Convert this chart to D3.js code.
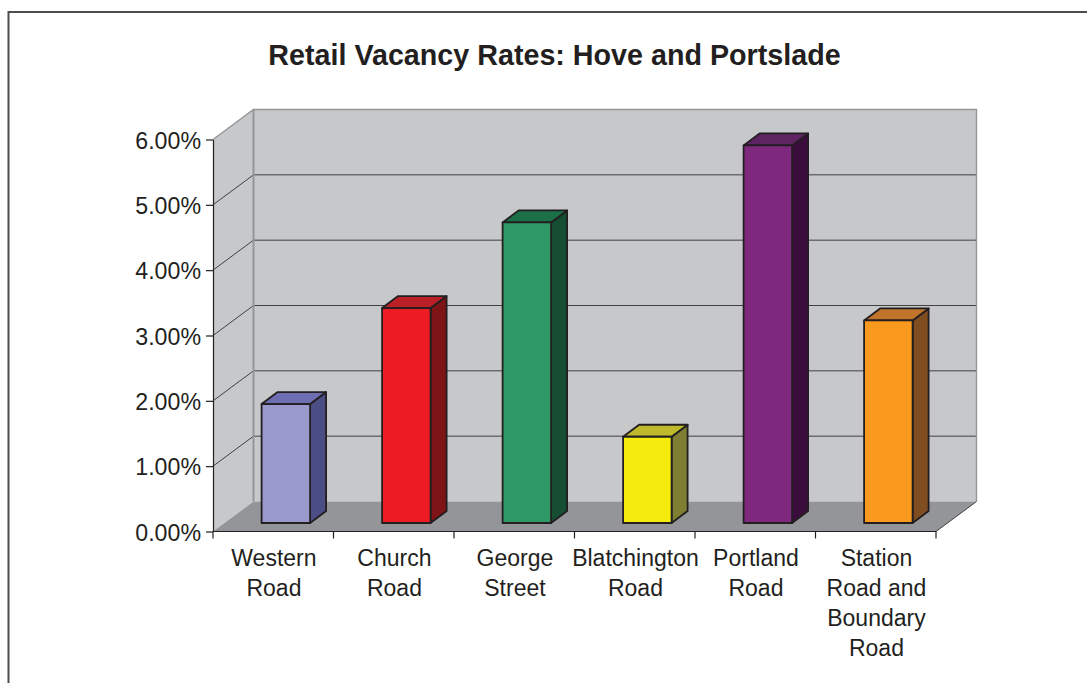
<!DOCTYPE html>
<html>
<head>
<meta charset="utf-8">
<script src="https://cdnjs.cloudflare.com/ajax/libs/d3/7.8.5/d3.min.js"></script>
<style>
html, body { margin: 0; padding: 0; background: #fff; }
svg { display: block; }
text { font-family: "Liberation Sans", Arial, sans-serif; fill: #231f20; }
</style>
</head>
<body>
<svg id="chart" width="1087" height="683"></svg>
<script>
var title = 'Retail Vacancy Rates: Hove and Portslade';
var categories = ['Western Road', 'Church Road', 'George Street', 'Blatchington Road', 'Portland Road', 'Station Road and Boundary Road'];
var catLines = [['Western', 'Road'], ['Church', 'Road'], ['George', 'Street'], ['Blatchington', 'Road'], ['Portland', 'Road'], ['Station', 'Road and', 'Boundary', 'Road']];
var values = [0.0182, 0.0329, 0.0460, 0.0132, 0.0578, 0.0310];
var yTicks = [0, 0.01, 0.02, 0.03, 0.04, 0.05, 0.06];
var frontColors = ['#9999cc', '#ed1c24', '#2f9966', '#f5ec0d', '#7e287e', '#f9991d'];
var topColors = ['#6d6fb2', '#bb2026', '#1c7048', '#bfb92c', '#5e2461', '#c0752a'];
var sideColors = ['#4b4d85', '#7f1417', '#164e33', '#7f7f33', '#3a0d3c', '#7f4d20'];

var svg = d3.select('#chart');

// outer frame, only top and left show
svg.append('path')
    .attr('d', 'M8.5,683V12H1087')
    .attr('fill', 'none')
    .attr('stroke', '#4d4d4f')
    .attr('stroke-width', 2);

svg.append('text')
    .attr('x', 554.5)
    .attr('y', 65)
    .attr('text-anchor', 'middle')
    .style('font-size', '28.7px')
    .style('font-weight', 'bold')
    .text(title);

var x = d3.scaleBand().domain(categories).range([213, 936]);
var y = d3.scaleLinear().domain([0, 0.06]).range([531.5, 139.5]);

var depth_x = 40.5, depth_y = 30;
var x0 = x.range()[0], x1 = x.range()[1];
var y0 = y(0), yTop = y(0.06);

// walls and floor
svg.append('polygon')
    .attr('points', [[x0, y0], [x0 + depth_x, y0 - depth_y], [x0 + depth_x, yTop - depth_y], [x0, yTop]].join(' '))
    .attr('fill', '#c7c8ca');
svg.append('rect')
    .attr('x', x0 + depth_x)
    .attr('y', yTop - depth_y)
    .attr('width', x1 - x0)
    .attr('height', y0 - yTop)
    .attr('fill', '#c7c8ca');
svg.append('polygon')
    .attr('points', [[x0, y0], [x0 + depth_x, y0 - depth_y], [x1 + depth_x, y0 - depth_y], [x1, y0]].join(' '))
    .attr('fill', '#939598');

// gridlines
yTicks.slice(1, -1).forEach(function(t){
    svg.append('path')
        .attr('d', 'M' + x0 + ',' + y(t) + 'L' + (x0 + depth_x) + ',' + (y(t) - depth_y) + 'H' + (x1 + depth_x))
        .attr('fill', 'none')
        .attr('stroke', '#414042')
        .attr('stroke-width', 1);
});

// wall edges
svg.append('path')
    .attr('d', 'M' + x0 + ',' + yTop + 'L' + (x0 + depth_x) + ',' + (yTop - depth_y) + 'H' + (x1 + depth_x) + 'V' + (y0 - depth_y))
    .attr('fill', 'none')
    .attr('stroke', '#939598')
    .attr('stroke-width', 1.4);
svg.append('line')
    .attr('x1', x0 + depth_x).attr('x2', x0 + depth_x)
    .attr('y1', yTop - depth_y).attr('y2', y0 - depth_y)
    .attr('stroke', '#939598')
    .attr('stroke-width', 2);
svg.append('line')
    .attr('x1', x1).attr('x2', x1 + depth_x)
    .attr('y1', y0).attr('y2', y0 - depth_y)
    .attr('stroke', '#414042')
    .attr('stroke-width', 1);

// bars
var bar_w = 48.5, bar_off = 48.6, bar_dx = 16, bar_dy = 12, bar_lift = 8.5;
var bars = svg.selectAll('.bar')
    .data(values)
    .enter().append('g')
    .attr('class', 'bar')
    .attr('stroke', '#231f20')
    .attr('stroke-width', 1.8)
    .attr('stroke-linejoin', 'round');

bars.append('polygon')
    .attr('fill', function(d, i){ return sideColors[i]; })
    .attr('points', function(d, i){
        var l = x(categories[i]) + bar_off + bar_w, b = y0 - bar_lift, t = y(d) - bar_lift;
        return [[l, b], [l + bar_dx, b - bar_dy], [l + bar_dx, t - bar_dy], [l, t]].join(' ');
    });
bars.append('polygon')
    .attr('fill', function(d, i){ return topColors[i]; })
    .attr('points', function(d, i){
        var l = x(categories[i]) + bar_off, t = y(d) - bar_lift;
        return [[l, t], [l + bar_dx, t - bar_dy], [l + bar_w + bar_dx, t - bar_dy], [l + bar_w, t]].join(' ');
    });
bars.append('rect')
    .attr('fill', function(d, i){ return frontColors[i]; })
    .attr('x', function(d, i){ return x(categories[i]) + bar_off; })
    .attr('y', function(d){ return y(d) - bar_lift; })
    .attr('width', bar_w)
    .attr('height', function(d){ return y0 - y(d); });

// y axis
var yAxis = svg.append('g')
    .attr('transform', 'translate(' + x0 + ',0)')
    .call(d3.axisLeft(y).tickValues(yTicks).tickFormat(d3.format('.2%')).tickSize(7).tickPadding(5).tickSizeOuter(0));
yAxis.select('.domain').attr('stroke', '#231f20').attr('stroke-width', 1.2);
yAxis.selectAll('.tick line').attr('stroke', '#231f20').attr('stroke-width', 1.2);
yAxis.selectAll('text')
    .attr('dy', '0.38em')
    .style('font-size', '23.2px')
    .attr('fill', '#231f20');

// x axis baseline and ticks sit on the band edges
svg.append('line')
    .attr('x1', x0).attr('x2', x1)
    .attr('y1', y0).attr('y2', y0)
    .attr('stroke', '#231f20')
    .attr('stroke-width', 1.2);
categories.forEach(function(c){
    svg.append('line')
        .attr('x1', x(c)).attr('x2', x(c))
        .attr('y1', y0).attr('y2', y0 + 7)
        .attr('stroke', '#231f20')
        .attr('stroke-width', 1.2);
});
svg.append('line')
    .attr('x1', x1).attr('x2', x1)
    .attr('y1', y0).attr('y2', y0 + 7)
    .attr('stroke', '#231f20')
    .attr('stroke-width', 1.2);

// category labels
catLines.forEach(function(lines, i){
    var t = svg.append('text')
        .attr('text-anchor', 'middle')
        .style('font-size', '23px');
    lines.forEach(function(s, j){
        t.append('tspan')
            .attr('x', x(categories[i]) + x.bandwidth() / 2 + 0.7)
            .attr('y', 565.5 + j * 30.3)
            .text(s);
    });
});
</script>
</body>
</html>
